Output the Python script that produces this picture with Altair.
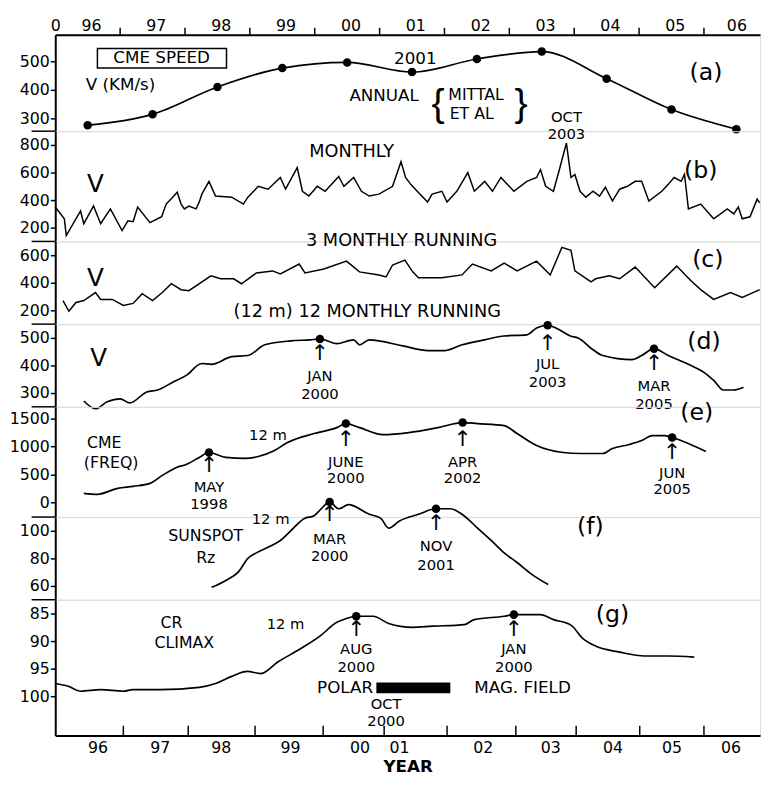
import altair as alt
import pandas as pd

FONT = "DejaVu Sans"
XMIN, XMAX = 1996.0, 2006.865
W = 716
HA, HB, HC, HD, HE, HF, HG = 98, 112, 84, 84, 112, 84, 138
U = alt.Undefined
N = None

# ---------------- axes ----------------
top_tick_years = [1997, 1998, 1999, 2000, 2001, 2002, 2003, 2004, 2005, 2006]
top_label_pos = [1996.0, 1996.55, 1997.55, 1998.55, 1999.55, 2000.55, 2001.55,
                 2002.55, 2003.55, 2004.55, 2005.55, 2006.5]
bottom_tick_years = [1997.05, 1998.05, 1999.08, 2000.13, 2001.07, 2002.04, 2003.10,
                     2004.03, 2005.01, 2006.0]
bottom_label_pos = [1996.65, 1997.61, 1998.55, 1999.62, 2000.69, 2001.30, 2002.59,
                    2003.63, 2004.59, 2005.50, 2006.41]

dom_a, ticks_a = [255, 593], [300, 400, 500]
dom_b, ticks_b = [100, 900], [200, 400, 600, 800]
dom_c, ticks_c = [100, 700], [200, 400, 600]
dom_d, ticks_d = [250, 550], [300, 400, 500]
dom_e, ticks_e = [-265, 1712], [0, 500, 1000, 1500]
dom_f, ticks_f = [50, 110], [60, 80, 100]
dom_g, ticks_g = [82.5, 107.14], [85, 90, 95, 100]

# ---------------- data ----------------
# (a) annual CME speed (Mittal et al)
annual_t = [1996.5, 1997.5, 1998.5, 1999.5, 2000.5, 2001.5, 2002.5, 2003.5, 2004.5, 2005.5, 2006.5]
annual_v = [276, 314, 410, 476, 496, 462, 508, 534, 439, 331, 262]

# (b) monthly CME speed
monthly_t = [1996.00, 1996.14, 1996.17, 1996.39, 1996.44, 1996.59, 1996.70, 1996.85, 1997.03, 1997.12,
             1997.20, 1997.27, 1997.46, 1997.64, 1997.71, 1997.81, 1997.88, 1997.94, 1997.99, 1998.06,
             1998.17, 1998.22, 1998.26, 1998.37, 1998.47, 1998.72, 1998.90, 1998.97, 1999.13, 1999.28,
             1999.47, 1999.55, 1999.73, 1999.81, 1999.91, 2000.04, 2000.16, 2000.37, 2000.45, 2000.60,
             2000.72, 2000.84, 2000.99, 2001.20, 2001.33, 2001.40, 2001.48, 2001.58, 2001.74, 2001.81,
             2001.96, 2002.04, 2002.19, 2002.36, 2002.46, 2002.62, 2002.74, 2002.87, 2003.07, 2003.27,
             2003.42, 2003.48, 2003.56, 2003.68, 2003.78, 2003.88, 2003.95, 2004.01, 2004.09, 2004.18,
             2004.29, 2004.39, 2004.48, 2004.59, 2004.70, 2004.82, 2004.94, 2005.04, 2005.15, 2005.35,
             2005.45, 2005.54, 2005.65, 2005.70, 2005.73, 2005.76, 2005.95, 2006.15, 2006.36, 2006.46,
             2006.53, 2006.59, 2006.71, 2006.82, 2006.86]
monthly_v = [350, 264, 143, 321, 229, 357, 229, 336, 179, 250,
             243, 350, 236, 279, 371, 421, 457, 371, 336, 357,
             336, 386, 443, 536, 429, 421, 371, 421, 500, 479,
             564, 479, 636, 464, 429, 500, 464, 571, 500, 564,
             464, 429, 443, 500, 679, 564, 514, 464, 386, 443,
             464, 386, 464, 600, 464, 536, 464, 564, 464, 536,
             564, 621, 500, 464, 636, 814, 564, 586, 464, 421,
             464, 429, 493, 393, 479, 500, 536, 536, 393, 464,
             514, 564, 536, 586, 464, 336, 371, 264, 336, 300,
             350, 264, 279, 407, 380]

# (c) 3-monthly running mean
run3_t = [1996.12, 1996.21, 1996.32, 1996.44, 1996.62, 1996.70, 1996.88, 1997.05, 1997.20, 1997.34,
          1997.50, 1997.65, 1997.79, 1997.94, 1998.06, 1998.40, 1998.55, 1998.75, 1998.87, 1999.10,
          1999.35, 1999.47, 1999.76, 1999.85, 2000.14, 2000.49, 2000.69, 2000.99, 2001.10, 2001.20,
          2001.39, 2001.51, 2001.60, 2001.96, 2002.27, 2002.43, 2002.72, 2002.92, 2003.12, 2003.42,
          2003.63, 2003.81, 2003.95, 2004.01, 2004.26, 2004.33, 2004.54, 2004.70, 2004.94, 2005.24,
          2005.58, 2005.80, 2005.95, 2006.15, 2006.41, 2006.59, 2006.86]
run3_v = [271, 193, 257, 271, 329, 279, 279, 236, 250, 321,
          271, 329, 393, 350, 343, 450, 429, 429, 393, 471,
          486, 464, 536, 471, 500, 557, 479, 457, 443, 529,
          564, 479, 436, 436, 457, 536, 486, 543, 486, 557,
          457, 657, 636, 486, 407, 429, 450, 429, 514, 364,
          521, 414, 350, 279, 329, 293, 350]

# (d) 12-monthly running mean
run12_t = [1996.44, 1996.62, 1996.80, 1997.00, 1997.15, 1997.41, 1997.58, 1997.81, 1998.02, 1998.26,
           1998.41, 1998.72, 1998.97, 1999.23, 1999.63, 1999.93, 2000.08, 2000.34, 2000.60, 2000.69,
           2000.84, 2001.36, 2001.75, 2002.01, 2002.27, 2002.62, 2002.92, 2003.27, 2003.42, 2003.59,
           2003.72, 2003.94, 2004.06, 2004.29, 2004.44, 2004.89, 2005.04, 2005.23, 2005.45, 2005.76,
           2006.00, 2006.15, 2006.30, 2006.46, 2006.61]
run12_v = [271, 243, 268, 279, 264, 304, 311, 339, 364, 407,
           404, 432, 436, 475, 489, 493, 496, 479, 493, 475,
           493, 471, 454, 454, 475, 493, 507, 511, 536, 546,
           536, 507, 500, 457, 436, 421, 436, 461, 436, 404,
           375, 346, 311, 311, 321]
run12_peak_t = [2000.08, 2003.59, 2005.23]
run12_peak_v = [496, 546, 461]

# (e) CME frequency, 12 m
freq_t = [1996.44, 1996.65, 1996.96, 1997.20, 1997.46, 1997.65, 1997.87, 1998.02, 1998.22, 1998.37,
          1998.63, 1998.93, 1999.13, 1999.38, 1999.58, 1999.99, 2000.34, 2000.48, 2000.69, 2001.05,
          2001.45, 2001.90, 2002.28, 2002.51, 2002.92, 2003.12, 2003.42, 2003.83, 2004.09, 2004.44,
          2004.59, 2004.85, 2005.04, 2005.20, 2005.39, 2005.51, 2005.76, 2006.03]
freq_v = [161, 143, 250, 286, 339, 482, 625, 679, 804, 893,
          804, 786, 821, 929, 1071, 1232, 1339, 1411, 1339, 1214,
          1250, 1339, 1429, 1411, 1375, 1232, 1018, 893, 875, 875,
          964, 1036, 1107, 1196, 1196, 1161, 1054, 911]
freq_peak_t = [1998.37, 2000.48, 2002.28, 2005.51]
freq_peak_v = [893, 1411, 1429, 1161]

# (f) sunspot Rz, 12 m
rz_t = [1998.41, 1998.63, 1998.82, 1998.97, 1999.10, 1999.32, 1999.47, 1999.63, 1999.84, 1999.99,
        2000.10, 2000.23, 2000.37, 2000.52, 2000.84, 2001.02, 2001.14, 2001.30, 2001.60, 2001.87,
        2002.09, 2002.27, 2002.51, 2002.72, 2002.92, 2003.12, 2003.33, 2003.60]
rz_v = [59, 64, 70, 80, 84, 89, 93, 100, 109, 111,
        116, 121, 116, 119, 112, 109, 102, 107, 112, 116,
        116, 112, 102, 93, 84, 77, 69, 61]
rz_peak_t = [2000.23, 2001.87]
rz_peak_v = [121, 116]

# (g) CR Climax, 12 m
cr_t = [1996.00, 1996.20, 1996.39, 1996.70, 1997.05, 1997.20, 1997.61, 1998.22, 1998.47, 1998.72,
        1998.96, 1999.17, 1999.43, 1999.78, 2000.08, 2000.34, 2000.49, 2000.64, 2000.90, 2001.14,
        2001.51, 2001.81, 2002.31, 2002.46, 2002.92, 2003.07, 2003.48, 2003.68, 2003.95, 2004.13,
        2004.33, 2004.70, 2005.09, 2005.45, 2005.85]
cr_v = [97.7, 98.2, 99.1, 98.8, 99.1, 98.8, 98.8, 98.4, 97.7, 96.4,
        95.5, 95.9, 93.8, 91.4, 89.1, 86.6, 85.9, 85.5, 85.5, 86.8,
        87.5, 87.3, 87.0, 86.1, 85.5, 85.2, 85.2, 86.1, 87.1, 89.5,
        90.9, 92.0, 92.7, 92.7, 92.9]
cr_peak_t = [2000.64, 2003.07]
cr_peak_v = [85.5, 85.2]

# polar magnetic field reversal bar (years, in CR panel units)
polar_t, polar_t2, polar_v, polar_v2 = [2000.95], [2002.09], [97.5], [99.46]

# CME SPEED box
box_t, box_t2, box_v, box_v2 = [1996.65], [1998.64], [545], [476]

# ---------------- annotation texts ----------------
notes_a = [("CME  SPEED", 1997.64, 510), ("2001", 2001.55, 507), ("ANNUAL", 2001.07, 379)]
notes_a_left = [("V (KM/s)", 1996.47, 417)]
notes_a_mittal = [("MITTAL", 2002.06, 382), ("ET AL", 2002.08, 314)]
braces_a = [("{", 2001.90, 350), ("}", 2003.18, 350)]
notes_b = [("OCT", 2003.88, 1000), ("2003", 2003.88, 879)]
notes_b_words = [("MONTHLY", 2000.57, 750)]
notes_c = [("3   MONTHLY   RUNNING", 2001.34, 700)]
notes_d_words = [("(12 m)   12   MONTHLY   RUNNING", 2000.81, 593)]
notes_d = [("JAN", 2000.08, 361), ("2000", 2000.08, 296),
           ("JUL", 2003.59, 404), ("2003", 2003.59, 339),
           ("MAR", 2005.23, 325), ("2005", 2005.23, 261)]
arrows_d = [("↑", 2000.08, 443), ("↑", 2003.59, 482), ("↑", 2005.23, 407)]
notes_e = [("12 m", 1999.28, 1200),
           ("MAY", 1998.37, 266), ("1998", 1998.37, -34),
           ("JUNE", 2000.48, 724), ("2000", 2000.48, 436),
           ("APR", 2002.28, 724), ("2002", 2002.28, 436),
           ("JUN", 2005.51, 530), ("2005", 2005.51, 230)]
notes_e_left = [("CME", 1996.49, 1065), ("(FREQ)", 1996.44, 700)]
arrows_e = [("↑", 1998.37, 671), ("↑", 2000.48, 1130), ("↑", 2002.28, 1130), ("↑", 2005.51, 901)]
notes_f_words = [("SUNSPOT", 1998.32, 96.0), ("Rz", 1998.32, 80.4)]
notes_f = [("12 m", 1999.32, 108.6),
           ("MAR", 2000.23, 94.3), ("2000", 2000.23, 81.4),
           ("NOV", 2001.87, 88.6), ("2001", 2001.87, 75.0)]
arrows_f = [("↑", 2000.23, 112.1), ("↑", 2001.87, 105.7)]
notes_g_words = [("CR", 1997.79, 86.80), ("CLIMAX", 1997.99, 90.40)]
notes_g = [("12 m", 1999.55, 86.96),
           ("AUG", 2000.64, 91.43), ("2000", 2000.64, 94.64),
           ("JAN", 2003.07, 91.43), ("2000", 2003.07, 94.64),
           ("OCT", 2001.10, 101.43), ("2000", 2001.10, 104.46)]
arrows_g = [("↑", 2000.64, 87.86), ("↑", 2003.07, 87.86)]
polar_left = [("MAG. FIELD", 2002.46, 98.57)]
polar_right = [("POLAR", 2000.90, 98.57)]
big_v = {"b": ("V", 1996.62, 514), "c": ("V", 1996.62, 436), "d": ("V", 1996.67, 425)}
panel_tags = {"a": ("(a)", 2006.03, 459), "b": ("(b)", 2005.95, 607), "c": ("(c)", 2006.06, 564),
              "d": ("(d)", 2006.0, 486), "e": ("(e)", 2005.89, 1606), "f": ("(f)", 2004.25, 102.9),
              "g": ("(g)", 2004.59, 85.36)}

# ---------------- helpers ----------------
YEAR_EXPR = "(floor(datum.value) % 100 < 10 ? '0' : '') + (floor(datum.value) % 100)"
WORD = 17   # word annotations
DATE = 15   # date annotations


def X(axis=U, field="t"):
    return alt.X(f"{field}:Q", scale=alt.Scale(domain=[XMIN, XMAX], nice=False, zero=False), axis=axis)


def Y(dom, axis=U, rev=False, field="v"):
    return alt.Y(f"{field}:Q", scale=alt.Scale(domain=dom, nice=False, zero=False, reverse=rev), axis=axis)


def yaxis(vals):
    return alt.Axis(values=vals, tickCount=20, title=None, format="d", grid=False, tickSize=5,
                    tickWidth=1.5, tickColor="black", labelPadding=1, labelFont=FONT,
                    labelFontSize=16, labelColor="black", domainColor="black", domainWidth=2,
                    labelOverlap=False, labelFlush=False)


def series(t, v, dom, ticks, interp="linear", rev=False, xaxis=U, sw=1.7):
    df = pd.DataFrame({"t": t, "v": v})
    return alt.Chart(df).mark_line(color="black", strokeWidth=sw, interpolate=interp).encode(
        x=X(xaxis), y=Y(dom, yaxis(ticks), rev))


def dots(t, v, dom, rev=False, xaxis=U):
    df = pd.DataFrame({"t": t, "v": v})
    return alt.Chart(df).mark_circle(color="black", opacity=1, size=75).encode(
        x=X(xaxis), y=Y(dom, U, rev))


def texts(rows, dom, size=16, align="center", rev=False, weight="normal", xaxis=U, font=FONT):
    df = pd.DataFrame(rows, columns=["txt", "t", "v"])
    return alt.Chart(df).mark_text(font=font, fontSize=size, align=align, baseline="middle",
                                   color="black", fontWeight=weight).encode(
        x=X(xaxis), y=Y(dom, U, rev), text="txt:N")


def separator(h):
    return alt.Chart(pd.DataFrame({"k": [0]})).mark_rule(color="black", strokeWidth=1.5).encode(
        x=alt.value(-24), x2=alt.value(0), y=alt.value(h))


def rect(t, t2, v, v2, dom, rev=False, filled=True, xaxis=U):
    df = pd.DataFrame({"t": t, "t2": t2, "v": v, "v2": v2})
    if filled:
        mk = alt.Chart(df).mark_rect(color="black")
    else:
        mk = alt.Chart(df).mark_rect(fillOpacity=0, stroke="black", strokeWidth=1.5)
    return mk.encode(x=X(xaxis), x2=alt.X2("t2:Q"), y=Y(dom, U, rev), y2=alt.Y2("v2:Q"))


top_axis = alt.Axis(orient="top", values=top_label_pos, tickCount=30,
                    labelExpr="datum.value < 1996.2 ? '0' : " + YEAR_EXPR,
                    ticks=False, tickSize=0, domain=True, domainColor="black", domainWidth=2,
                    labelPadding=1, labelFont=FONT, labelFontSize=16, labelColor="black",
                    grid=False, title=None, labelFlush=False, labelOverlap=False)
bottom_axis = alt.Axis(orient="bottom", values=bottom_label_pos, tickCount=30, labelExpr=YEAR_EXPR,
                       ticks=False, tickSize=0, domain=True, domainColor="black", domainWidth=2,
                       labelPadding=4, labelFont=FONT, labelFontSize=16, labelColor="black",
                       grid=False, title="YEAR", titleFont=FONT, titleFontSize=17,
                       titleFontWeight="bold", titleColor="black", titlePadding=3,
                       labelFlush=False, labelOverlap=False)

# ---------------- panels ----------------
top_ticks = alt.Chart(pd.DataFrame({"t": top_tick_years})).mark_rule(
    color="black", strokeWidth=1.5).encode(x=X(), y=alt.value(0), y2=alt.value(-7))

pa = alt.layer(
    series(annual_t, annual_v, dom_a, ticks_a, interp="monotone", xaxis=top_axis),
    dots(annual_t, annual_v, dom_a),
    rect(box_t, box_t2, box_v, box_v2, dom_a, filled=False),
    texts(notes_a, dom_a, size=WORD),
    texts(notes_a_left, dom_a, size=WORD, align="left"),
    texts(notes_a_mittal, dom_a, size=16, align="left"),
    texts(braces_a, dom_a, size=40, font="Liberation Sans"),
    texts([panel_tags["a"]], dom_a, size=24),
    top_ticks,
    separator(HA),
).properties(width=W, height=HA)

pb = alt.layer(
    series(monthly_t, monthly_v, dom_b, ticks_b, sw=1.5, xaxis=N),
    texts(notes_b, dom_b, size=DATE, xaxis=N),
    texts(notes_b_words, dom_b, size=18, xaxis=N),
    texts([big_v["b"]], dom_b, size=25, xaxis=N),
    texts([panel_tags["b"]], dom_b, size=24, xaxis=N),
    separator(HB),
).properties(width=W, height=HB)

pc = alt.layer(
    series(run3_t, run3_v, dom_c, ticks_c, sw=1.5, xaxis=N),
    texts(notes_c, dom_c, size=18, xaxis=N),
    texts([big_v["c"]], dom_c, size=25, xaxis=N),
    texts([panel_tags["c"]], dom_c, size=24, xaxis=N),
    separator(HC),
).properties(width=W, height=HC)

pd_ = alt.layer(
    series(run12_t, run12_v, dom_d, ticks_d, interp="monotone", xaxis=N),
    dots(run12_peak_t, run12_peak_v, dom_d, xaxis=N),
    texts(notes_d_words, dom_d, size=18, xaxis=N),
    texts(notes_d, dom_d, size=DATE, xaxis=N),
    texts(arrows_d, dom_d, size=22, xaxis=N),
    texts([big_v["d"]], dom_d, size=25, xaxis=N),
    texts([panel_tags["d"]], dom_d, size=24, xaxis=N),
    separator(HD),
).properties(width=W, height=HD)

pe = alt.layer(
    series(freq_t, freq_v, dom_e, ticks_e, interp="monotone", xaxis=N),
    dots(freq_peak_t, freq_peak_v, dom_e, xaxis=N),
    texts(notes_e, dom_e, size=DATE, xaxis=N),
    texts(notes_e_left, dom_e, size=16, align="left", xaxis=N),
    texts(arrows_e, dom_e, size=22, xaxis=N),
    texts([panel_tags["e"]], dom_e, size=24, xaxis=N),
    separator(HE),
).properties(width=W, height=HE)

pf = alt.layer(
    series(rz_t, rz_v, dom_f, ticks_f, interp="monotone", xaxis=N),
    dots(rz_peak_t, rz_peak_v, dom_f, xaxis=N),
    texts(notes_f_words, dom_f, size=16, xaxis=N),
    texts(notes_f, dom_f, size=DATE, xaxis=N),
    texts(arrows_f, dom_f, size=22, xaxis=N),
    texts([panel_tags["f"]], dom_f, size=24, xaxis=N),
    separator(HF),
).properties(width=W, height=HF)

bottom_ticks = alt.Chart(pd.DataFrame({"t": bottom_tick_years})).mark_rule(
    color="black", strokeWidth=1.5).encode(x=X(), y=alt.value(HG), y2=alt.value(HG - 10))

pg = alt.layer(
    series(cr_t, cr_v, dom_g, ticks_g, interp="monotone", rev=True, xaxis=bottom_axis),
    dots(cr_peak_t, cr_peak_v, dom_g, rev=True),
    rect(polar_t, polar_t2, polar_v, polar_v2, dom_g, rev=True),
    texts(notes_g_words, dom_g, size=16, rev=True),
    texts(notes_g, dom_g, size=DATE, rev=True),
    texts(arrows_g, dom_g, size=22, rev=True),
    texts(polar_left, dom_g, size=WORD, align="left", rev=True),
    texts(polar_right, dom_g, size=WORD, align="right", rev=True),
    texts([panel_tags["g"]], dom_g, size=24, rev=True),
    bottom_ticks,
).properties(width=W, height=HG)

chart = alt.vconcat(pa, pb, pc, pd_, pe, pf, pg, spacing=0, bounds="flush").resolve_scale(
    y="independent").properties(padding={"left": 0, "top": 3, "right": 0, "bottom": 0}
).configure_view(strokeWidth=0).configure(background="white")

chart.save("out.html", embed_options={"renderer": "svg", "actions": False})
